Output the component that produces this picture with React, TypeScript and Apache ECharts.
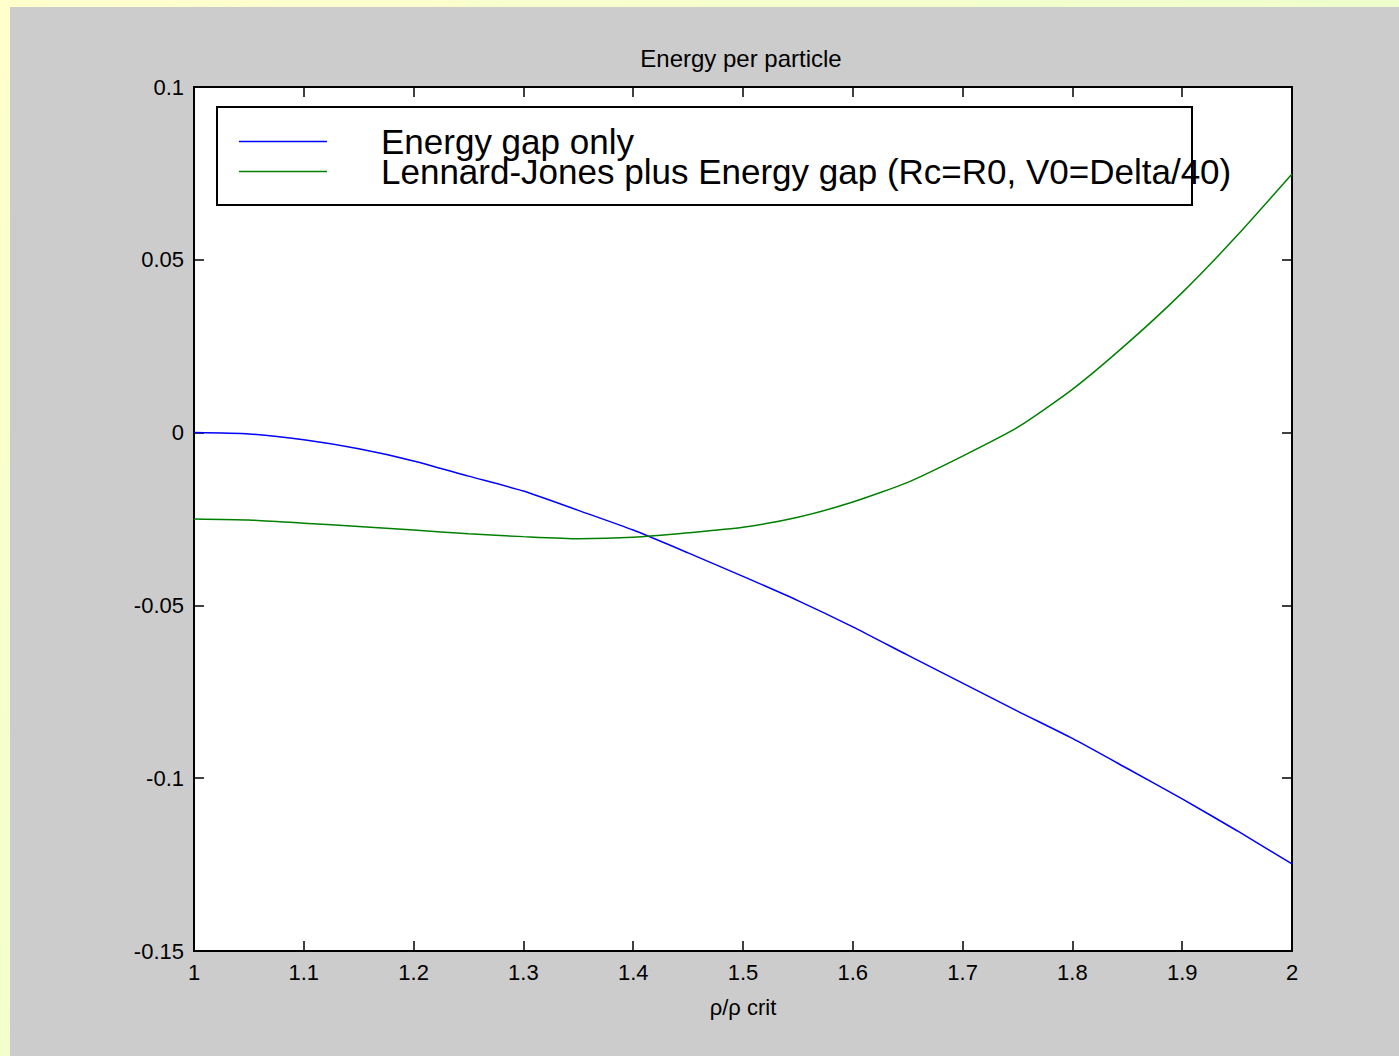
import React, { useEffect, useRef } from "react";
import * as echarts from "echarts";

const xValues = [1.0, 1.05, 1.1, 1.15, 1.2, 1.25, 1.3, 1.35, 1.4, 1.45, 1.5, 1.55, 1.6, 1.65, 1.7, 1.75, 1.8, 1.85, 1.9, 1.95, 2.0];
const energyGapOnly = [0, -0.0004, -0.0021, -0.0047, -0.0082, -0.0126, -0.0169, -0.0225, -0.0282, -0.0348, -0.0416, -0.0486, -0.0562, -0.0644, -0.0725, -0.0806, -0.0885, -0.0972, -0.106, -0.1152, -0.1248];
const lennardJones = [-0.025, -0.0253, -0.0262, -0.0272, -0.0282, -0.0293, -0.0301, -0.0307, -0.0303, -0.029, -0.0274, -0.0245, -0.0201, -0.0144, -0.0068, 0.0015, 0.0125, 0.0258, 0.0405, 0.057, 0.0748];
const seriesNames = ["Energy gap only", "Lennard-Jones plus Energy gap (Rc=R0, V0=Delta/40)"];
const titleText = "Energy per particle";
const xAxisName = "ρ/ρ crit";

const FONT = "'Liberation Sans', Arial, sans-serif";

export default function App() {
  const ref = useRef<HTMLDivElement>(null);
  useEffect(() => {
    if (!ref.current) return;
    const chart = echarts.init(ref.current, null, { renderer: "svg" });
    const pair = (ys: number[]) => xValues.map((x, i) => [x, ys[i]]);
    const axisLine = { show: true, onZero: false, lineStyle: { color: "#000", width: 2 } };
    const axisTick = { show: true, inside: true, length: 10, lineStyle: { color: "#000", width: 1.5 } };
    chart.setOption({
      animation: false,
      backgroundColor: "#cccccc",
      textStyle: { fontFamily: FONT },
      title: {
        text: titleText,
        left: 726,
        top: 34,
        textAlign: "center",
        textStyle: { fontFamily: FONT, fontSize: 24, fontWeight: "normal", color: "#000" },
      },
      grid: {
        left: 184,
        top: 80,
        right: 107,
        bottom: 105,
        show: true,
        backgroundColor: "#ffffff",
        borderColor: "#000",
        borderWidth: 2,
      },
      legend: {
        orient: "vertical",
        left: 229,
        top: 117,
        padding: 0,
        itemGap: -5,
        itemWidth: 88,
        itemHeight: 1.5,
        icon: "rect",
        z: 5,
        data: seriesNames,
        textStyle: {
          fontFamily: FONT,
          fontSize: 35,
          color: "#000",
          lineHeight: 31,
          padding: [0, 0, 0, 49],
        },
      },
      graphic: [
        {
          type: "rect",
          z: 3,
          shape: { x: 207, y: 100, width: 975, height: 98 },
          style: { fill: "#ffffff", stroke: "#000", lineWidth: 2 },
        },
      ],
      xAxis: [
        {
          type: "value",
          position: "bottom",
          min: 1,
          max: 2,
          interval: 0.1,
          name: xAxisName,
          nameLocation: "middle",
          nameGap: 45,
          nameTextStyle: { fontFamily: FONT, fontSize: 22, color: "#000" },
          axisLine,
          axisTick,
          splitLine: { show: false },
          axisLabel: {
            fontFamily: FONT,
            fontSize: 22,
            color: "#000",
            margin: 10,
            formatter: (v: number) => String(Math.round(v * 10) / 10),
          },
        },
        {
          type: "value",
          position: "top",
          min: 1,
          max: 2,
          interval: 0.1,
          axisLine,
          axisTick,
          splitLine: { show: false },
          axisLabel: { show: false },
        },
      ],
      yAxis: [
        {
          type: "value",
          position: "left",
          min: -0.15,
          max: 0.1,
          interval: 0.05,
          axisLine,
          axisTick,
          splitLine: { show: false },
          axisLabel: {
            fontFamily: FONT,
            fontSize: 22,
            color: "#000",
            margin: 10,
            formatter: (v: number) => String(Math.round(v * 100) / 100),
          },
        },
        {
          type: "value",
          position: "right",
          min: -0.15,
          max: 0.1,
          interval: 0.05,
          axisLine,
          axisTick,
          splitLine: { show: false },
          axisLabel: { show: false },
        },
      ],
      series: [
        {
          name: seriesNames[0],
          type: "line",
          data: pair(energyGapOnly),
          symbol: "none",
          smooth: 0.2,
          lineStyle: { color: "#0000ff", width: 1.5 },
          itemStyle: { color: "#0000ff" },
        },
        {
          name: seriesNames[1],
          type: "line",
          data: pair(lennardJones),
          symbol: "none",
          smooth: 0.2,
          lineStyle: { color: "#008000", width: 1.5 },
          itemStyle: { color: "#008000" },
        },
      ],
    });
    return () => chart.dispose();
  }, []);

  return (
    <div
      style={{
        position: "absolute",
        left: 0,
        top: 0,
        width: 1399,
        height: 1056,
        overflow: "hidden",
        background: "linear-gradient(135deg, #ffffcc 0%, #e2ffcc 100%)",
      }}
    >
      <div ref={ref} style={{ position: "absolute", left: 10, top: 7, width: 1389, height: 1049 }} />
    </div>
  );
}
